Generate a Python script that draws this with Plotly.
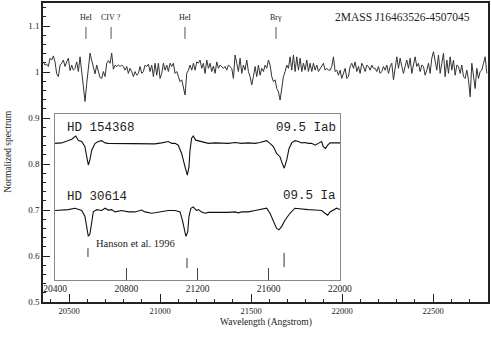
import plotly.graph_objects as go

# wavelength grid of the target spectrum (Angstrom)
WAVE_START = 20359
WAVE_STEP = 9.16

TARGET_FLUX = [
    1.022, 1.015, 1.017, 1.012, 1.030, 1.026, 1.035, 1.022, 0.996, 0.990,
    1.015, 1.019, 1.026, 1.012, 1.022, 1.030, 1.003, 1.015, 1.004, 1.008,
    1.022, 1.001, 1.033, 1.001, 0.961, 0.936, 0.975, 1.004, 1.041, 1.025,
    1.008, 0.996, 1.015, 1.004, 0.988, 0.986, 1.001, 0.990, 1.019, 1.025,
    1.019, 1.041, 1.006, 1.015, 1.012, 1.015, 1.012, 1.015, 1.012, 1.004,
    1.012, 0.997, 1.008, 1.001, 0.990, 1.001, 0.993, 0.997, 1.012, 0.997,
    1.001, 1.015, 1.012, 1.017, 1.001, 1.015, 0.990, 1.019, 0.993, 1.019,
    0.986, 0.997, 1.019, 1.004, 1.015, 1.001, 1.019, 1.012, 1.019, 0.997,
    1.001, 0.990, 0.979, 0.983, 0.968,
    0.950, 0.997, 1.004, 1.015, 1.004, 1.019, 1.004, 1.022, 1.019, 1.026,
    1.008, 1.019, 0.997, 1.026, 1.008, 1.019, 1.001, 1.013, 0.997, 1.022,
    1.008, 1.015, 1.012, 1.008, 1.012, 1.004, 1.015, 1.012, 1.008, 0.986,
    1.037, 1.019, 1.001, 1.030, 0.997, 1.015, 1.004, 1.026, 1.001, 0.990,
    0.972, 0.990, 1.012, 0.990, 1.015, 0.993, 1.008, 1.001, 1.015, 1.008,
    1.026, 1.015, 0.990, 0.979, 0.983, 0.964, 0.957, 0.939, 0.961, 0.990,
    1.001, 1.015, 1.008, 1.033, 1.004, 1.037, 1.001, 1.033, 1.004, 1.030,
    1.001, 1.019, 1.004, 1.026, 1.001, 1.019, 1.001, 1.019, 1.004, 1.015,
    1.001, 1.008, 1.015, 1.019, 1.004, 1.008, 1.004, 1.004, 1.012, 1.033,
    1.001, 1.004, 0.993, 1.004, 0.986, 0.997, 1.008, 0.986, 0.990, 1.012,
    1.019, 1.008, 1.022, 1.001, 1.012, 0.997, 1.019, 1.012, 1.001, 1.015,
    1.012, 1.004, 1.015, 1.008, 1.008, 1.001, 1.012, 0.997, 1.001, 1.012,
    1.004, 1.015, 0.997, 1.012, 1.019, 0.983, 1.012, 1.033, 1.008, 1.030,
    1.012, 0.997, 1.012, 1.026, 1.008, 1.030, 0.997, 1.012, 1.033, 1.012,
    1.019, 1.001, 1.015, 1.012, 0.993, 1.004, 1.019, 0.997, 1.030, 1.044,
    1.026, 1.004, 1.037, 0.997, 1.019, 1.041, 0.990, 1.026, 0.997, 1.033,
    1.004, 1.026, 0.993, 1.015, 1.012, 0.997, 1.015, 0.990, 0.986, 1.004,
    0.983, 0.946, 1.019, 0.993, 0.964, 1.008, 0.986, 1.001, 1.004, 1.019,
    1.033, 0.997,
]

HD154368_WAVE = [
    20400, 20437, 20475, 20494, 20516, 20531, 20550, 20568, 20578, 20587,
    20596, 20606, 20625, 20643, 20662, 20671, 20681, 20699, 20718, 20737,
    20774, 20812, 20849, 20886, 20924, 20961, 20999, 21036, 21055, 21074,
    21092, 21111, 21130, 21143, 21152, 21158, 21167, 21176, 21190, 21223,
    21261, 21298, 21336, 21373, 21411, 21448, 21485, 21523, 21551, 21570,
    21588, 21607, 21626, 21644, 21663, 21676, 21687, 21701, 21714, 21729,
    21747, 21766, 21785, 21803, 21822, 21841, 21860, 21878, 21897, 21906,
    21919, 21931, 21944, 21972, 22000,
]
HD154368_FLUX = [
    0.845, 0.846, 0.851, 0.854, 0.861, 0.851, 0.849, 0.838, 0.816, 0.798,
    0.809, 0.830, 0.845, 0.849, 0.851, 0.849, 0.846, 0.845, 0.845, 0.844,
    0.845, 0.845, 0.844, 0.845, 0.845, 0.844, 0.846, 0.849, 0.845, 0.845,
    0.841, 0.823, 0.794, 0.776, 0.794, 0.830, 0.856, 0.861, 0.852, 0.849,
    0.845, 0.846, 0.845, 0.845, 0.847, 0.845, 0.846, 0.845, 0.847, 0.849,
    0.851, 0.845, 0.838, 0.823, 0.816, 0.801, 0.791, 0.809, 0.834, 0.846,
    0.851, 0.849, 0.846, 0.847, 0.845, 0.845, 0.841, 0.845, 0.849, 0.838,
    0.834, 0.841, 0.846, 0.846, 0.846,
]

HD30614_WAVE = [
    20400, 20437, 20475, 20512, 20531, 20550, 20568, 20578, 20587, 20596,
    20606, 20615, 20634, 20662, 20681, 20699, 20718, 20737, 20774, 20812,
    20849, 20886, 20905, 20924, 20943, 20961, 20999, 21036, 21074, 21102,
    21115, 21126, 21135, 21145, 21152, 21163, 21176, 21195, 21205, 21223,
    21242, 21261, 21298, 21336, 21373, 21411, 21429, 21448, 21485, 21523,
    21560, 21588, 21607, 21626, 21644, 21657, 21672, 21691, 21719, 21747,
    21785, 21822, 21860, 21897, 21916, 21931, 21944, 21963, 21981, 22000,
]
HD30614_FLUX = [
    0.699, 0.700, 0.701, 0.704, 0.701, 0.699, 0.686, 0.662, 0.643, 0.648,
    0.678, 0.696, 0.701, 0.699, 0.704, 0.700, 0.701, 0.696, 0.699, 0.696,
    0.696, 0.700, 0.696, 0.694, 0.693, 0.694, 0.696, 0.699, 0.699, 0.696,
    0.678, 0.657, 0.643, 0.652, 0.686, 0.704, 0.707, 0.699, 0.701, 0.696,
    0.693, 0.695, 0.695, 0.694, 0.695, 0.696, 0.694, 0.696, 0.696, 0.699,
    0.701, 0.704, 0.693, 0.675, 0.660, 0.657, 0.664, 0.678, 0.693, 0.704,
    0.702, 0.701, 0.700, 0.699, 0.693, 0.689, 0.696, 0.701, 0.704, 0.701,
]

LINE_NAMES = ["HeI", "CIV ?", "HeI", "Brγ"]
LINE_WAVES = [20593, 20731, 21137, 21637]
LINE_TICK_TOP = 1.098
LINE_TICK_BOTTOM = 1.072
LINE_LABEL_Y = 1.119

HANSON_WAVES = [20585, 21141, 21686]
HANSON_TOP = [0.617, 0.596, 0.607]
HANSON_BOTTOM = [0.598, 0.574, 0.576]

SERIF = "Liberation Serif"
MONO = "Liberation Mono"
INK = "#222222"


def segments(xs, tops, bottoms):
    px, py = [], []
    for x, t, b in zip(xs, tops, bottoms):
        px += [x, x, None]
        py += [b, t, None]
    return px, py


target_wave = [WAVE_START + WAVE_STEP * i for i in range(len(TARGET_FLUX))]

fig = go.Figure()

fig.add_trace(go.Scatter(
    x=target_wave, y=TARGET_FLUX, mode="lines",
    line=dict(color="#333333", width=1), xaxis="x", yaxis="y",
))

lx, ly = segments(LINE_WAVES, [LINE_TICK_TOP] * 4, [LINE_TICK_BOTTOM] * 4)
fig.add_trace(go.Scatter(
    x=lx, y=ly, mode="lines", line=dict(color="#555555", width=1),
    xaxis="x", yaxis="y",
))

fig.add_trace(go.Scatter(
    x=HD154368_WAVE, y=HD154368_FLUX, mode="lines",
    line=dict(color="#111111", width=1.1), xaxis="x2", yaxis="y2",
))
fig.add_trace(go.Scatter(
    x=HD30614_WAVE, y=HD30614_FLUX, mode="lines",
    line=dict(color="#111111", width=1.1), xaxis="x2", yaxis="y2",
))

hx, hy = segments(HANSON_WAVES, HANSON_TOP, HANSON_BOTTOM)
fig.add_trace(go.Scatter(
    x=hx, y=hy, mode="lines", line=dict(color="#333333", width=1),
    xaxis="x2", yaxis="y2",
))

annotations = []
for name, w in zip(LINE_NAMES, LINE_WAVES):
    annotations.append(dict(
        x=w, y=LINE_LABEL_Y, xref="x", yref="y", text=name, showarrow=False,
        font=dict(family=SERIF, size=8, color=INK),
    ))

annotations += [
    dict(x=22714, y=1.119, xref="x", yref="y", text="2MASS J16463526-4507045",
         showarrow=False, xanchor="right",
         font=dict(family=SERIF, size=11.5, color=INK)),
    dict(x=20456, y=0.878, xref="x2", yref="y2", text="HD 154368",
         showarrow=False, xanchor="left",
         font=dict(family=MONO, size=12.5, color=INK)),
    dict(x=21989, y=0.878, xref="x2", yref="y2", text="09.5 Iab",
         showarrow=False, xanchor="right",
         font=dict(family=MONO, size=12.5, color=INK)),
    dict(x=20456, y=0.728, xref="x2", yref="y2", text="HD 30614",
         showarrow=False, xanchor="left",
         font=dict(family=MONO, size=12.5, color=INK)),
    dict(x=21989, y=0.730, xref="x2", yref="y2", text="09.5 Ia",
         showarrow=False, xanchor="right",
         font=dict(family=MONO, size=12.5, color=INK)),
    dict(x=20619, y=0.628, xref="x2", yref="y2", text="Hanson et al. 1996",
         showarrow=False, xanchor="left",
         font=dict(family=SERIF, size=10.5, color=INK)),
    dict(x=0.5, y=-0.07, xref="paper", yref="paper", text="Wavelength (Angstrom)",
         showarrow=False, xanchor="center", yanchor="middle",
         font=dict(family=SERIF, size=9.5, color=INK)),
    dict(x=-0.079, y=0.505, xref="paper", yref="paper", text="Normalized spectrum",
         showarrow=False, textangle=-90, xanchor="center", yanchor="middle",
         font=dict(family=SERIF, size=9.5, color=INK)),
]

fig.update_layout(
    width=491, height=342,
    margin=dict(l=43, r=3, t=3, b=40, autoexpand=False),
    paper_bgcolor="white", plot_bgcolor="white",
    showlegend=False,
    annotations=annotations,
    xaxis=dict(
        domain=[0, 1], range=[20357, 22802], anchor="y", automargin=False,
        tick0=20500, dtick=500, tickformat="d",
        ticks="inside", ticklen=8, tickwidth=1.2, tickcolor=INK,
        minor=dict(dtick=100, ticks="inside", ticklen=3, tickcolor=INK),
        showline=True, linecolor=INK, linewidth=1.5, mirror=True,
        showgrid=False, zeroline=False,
        tickfont=dict(family=SERIF, size=8.5, color=INK),
    ),
    yaxis=dict(
        domain=[0, 1], range=[0.5, 1.15], anchor="x", automargin=False,
        tick0=0.5, dtick=0.1,
        ticks="inside", ticklen=7, tickwidth=1.2, tickcolor=INK,
        minor=dict(dtick=0.02, ticks="inside", ticklen=3, tickcolor=INK),
        showline=True, linecolor=INK, linewidth=1.5, mirror=True,
        showgrid=False, zeroline=False,
        tickfont=dict(family=SERIF, size=9, color=INK),
    ),
    xaxis2=dict(
        domain=[0.027, 0.6674], range=[20400, 22000], anchor="y2", automargin=False,
        tick0=20400, dtick=400, tickformat="d",
        ticks="inside", ticklen=12, tickwidth=1, tickcolor="#444444",
        showline=True, linecolor="#888888", linewidth=1, mirror=True,
        showgrid=False, zeroline=False,
        tickfont=dict(family=SERIF, size=9.5, color=INK),
    ),
    yaxis2=dict(
        domain=[0.0736, 0.629], range=[0.548, 0.909], anchor="x2", automargin=False,
        showticklabels=False, ticks="",
        showline=True, linecolor="#888888", linewidth=1, mirror=True,
        showgrid=False, zeroline=False,
    ),
)

# drop the default page margin and scrollbars so the figure sits at the window corner
page_fix = (
    "document.body.style.margin = '0';"
    "document.body.style.overflow = 'hidden';"
    "document.documentElement.style.overflow = 'hidden';"
)
fig.write_html(
    "out.html",
    config={"displayModeBar": False, "responsive": False},
    post_script=page_fix,
)
